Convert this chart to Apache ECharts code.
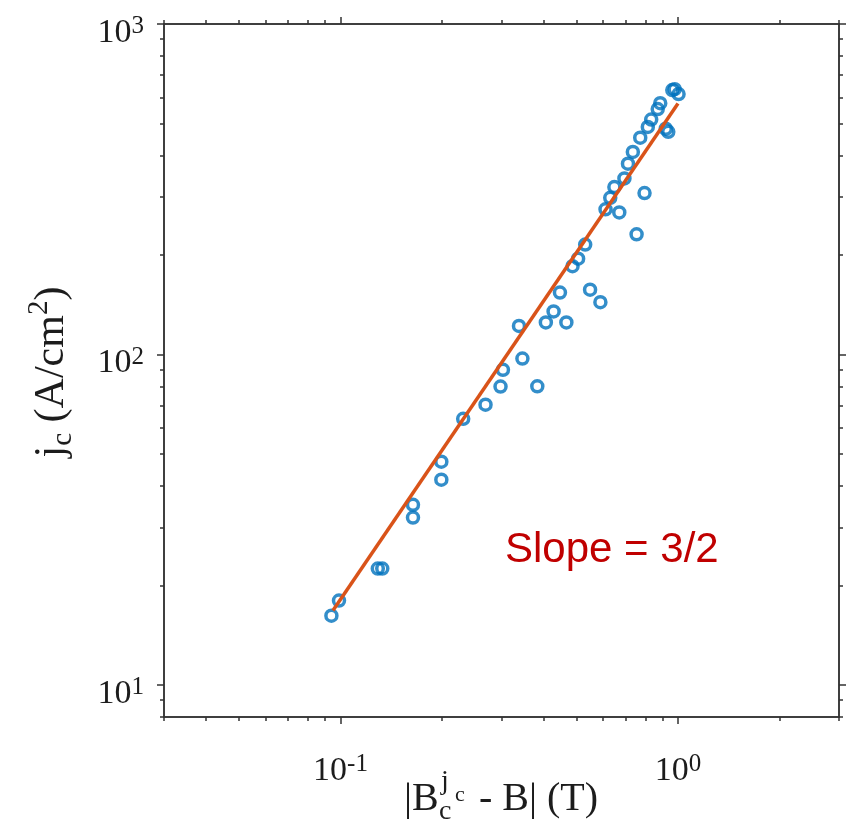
<!DOCTYPE html>
<html>
<head>
<meta charset="utf-8">
<title>Critical current density vs field</title>
<script src="https://cdn.jsdelivr.net/npm/echarts@6/dist/echarts.min.js"></script>
<style>
  html, body { margin: 0; padding: 0; background: #ffffff; }
  #chart { width: 849px; height: 826px; }
</style>
</head>
<body>
<div id="chart"></div>
<script>
// Measured |Bc^jc - B| (T) and critical current density jc (A/cm^2)
const fieldT = [0.0940, 0.0990, 0.129, 0.133, 0.164, 0.164, 0.199, 0.199, 0.231, 0.269,
                0.298, 0.303, 0.346, 0.383, 0.338, 0.406, 0.428, 0.467, 0.447, 0.549,
                0.589, 0.487, 0.506, 0.531, 0.610, 0.630, 0.648, 0.670, 0.694, 0.711,
                0.735, 0.773, 0.796, 0.754, 0.814, 0.833, 0.871, 0.886, 0.920, 0.936,
                0.962, 0.978, 1.004];
const currentJc = [16.2, 18.0, 22.5, 22.5, 35.1, 32.1, 47.4, 41.8, 63.9, 70.5,
                   80.0, 89.9, 97.2, 80.1, 122, 125, 135, 125, 154, 157,
                   144, 185, 195, 215, 275, 298, 321, 269, 341, 378,
                   410, 453, 308, 231, 488, 514, 553, 576, 482, 472,
                   631, 635, 614];

// Power-law guide line with slope 3/2 (end points)
const fitX = [0.095, 1.0];
const fitY = [16.8, 575];
const slopeText = 'Slope = 3/2';

// Axis ranges and tick positions (data units)
const xRange = [0.03, 3];
const yRange = [8, 1000];
const xMajorTicks = [0.1, 1];
const xMinorTicks = [0.03, 0.04, 0.05, 0.06, 0.07, 0.08, 0.09, 0.2, 0.3, 0.4, 0.5, 0.6, 0.7, 0.8, 0.9, 2, 3];
const yMajorTicks = [10, 100, 1000];
const yMinorTicks = [8, 9, 20, 30, 40, 50, 60, 70, 80, 90, 200, 300, 400, 500, 600, 700, 800, 900];

const lg = Math.log10;
const SERIF = "'Liberation Serif', 'Times New Roman', serif";
const AXIS_COLOR = '#333333';
const TEXT_COLOR = '#1c1c1c';

const powLabel = {
  formatter: v => '{b|10}{s|' + Math.round(v) + '}',
  color: TEXT_COLOR,
  rich: {
    b: { fontFamily: SERIF, fontSize: 34, lineHeight: 36, verticalAlign: 'bottom', color: TEXT_COLOR },
    s: { fontFamily: SERIF, fontSize: 25, lineHeight: 20, verticalAlign: 'top', color: TEXT_COLOR }
  }
};

function makeAxis(kind, position, ticks, len, withLabels, range) {
  const vals = ticks.map(lg);
  const ax = {
    type: 'value',
    position: position,
    min: lg(range[0]),
    max: lg(range[1]),
    scale: true,
    splitLine: { show: false },
    axisLine: { show: true, onZero: false, lineStyle: { color: AXIS_COLOR, width: 1.5 } },
    axisTick: { show: true, inside: false, length: len, customValues: vals,
                lineStyle: { color: AXIS_COLOR, width: 1.5 } },
    axisLabel: { show: false }
  };
  if (withLabels) {
    ax.axisLabel = Object.assign({ show: true, customValues: vals }, powLabel,
      kind === 'x' ? { margin: 35 } : { margin: 20, padding: [16, 0, 0, 0] });
  }
  return ax;
}

// Small helper for a left-aligned, vertically centred text piece
function piece(text, x, y, size) {
  return { type: 'text', x: x, y: y,
           style: { text: text, font: size + 'px ' + SERIF, fill: TEXT_COLOR, align: 'left', verticalAlign: 'middle' } };
}

const chart = echarts.init(document.getElementById('chart'), null, { renderer: 'canvas' });

chart.setOption({
  animation: false,
  backgroundColor: '#ffffff',
  grid: { left: 164, top: 24, width: 675, height: 693, outerBoundsMode: 'none' },
  xAxis: [
    makeAxis('x', 'bottom', xMajorTicks, 7, true, xRange),
    makeAxis('x', 'bottom', xMinorTicks, 4, false, xRange),
    makeAxis('x', 'top', xMajorTicks, 7, false, xRange),
    makeAxis('x', 'top', xMinorTicks, 4, false, xRange)
  ],
  yAxis: [
    makeAxis('y', 'left', yMajorTicks, 7, true, yRange),
    makeAxis('y', 'left', yMinorTicks, 4, false, yRange),
    makeAxis('y', 'right', yMajorTicks, 7, false, yRange),
    makeAxis('y', 'right', yMinorTicks, 4, false, yRange)
  ],
  series: [
    {
      type: 'scatter',
      data: fieldT.map((x, i) => [lg(x), lg(currentJc[i])]),
      symbol: 'circle',
      symbolSize: 11,
      itemStyle: { color: 'rgba(0,0,0,0)', borderColor: '#0072BD', borderWidth: 3.5 },
      z: 2
    },
    {
      type: 'line',
      data: fitX.map((x, i) => [lg(x), lg(fitY[i])]),
      showSymbol: false,
      lineStyle: { color: '#D95319', width: 3.5 },
      z: 3
    }
  ],
  graphic: [
    {
      // y-axis title, rotated to read bottom-to-top
      type: 'group',
      x: 52, y: 372,
      rotation: Math.PI / 2,
      children: [
        piece('j', -85.5, 0, 42),
        piece('c', -73.8, 11, 29),
        piece(' (A/cm', -60.9, 0, 42),
        piece('2', 56.9, -13, 29),
        piece(')', 71.4, 0, 42)
      ]
    },
    {
      // x-axis title
      type: 'group',
      children: [
        piece('|B', 404, 799, 40),
        piece('j', 441, 782, 28),
        piece('c', 439, 812, 28),
        piece('c', 455, 795, 22),
        piece('- B| (T)', 479, 799, 40)
      ]
    },
    {
      type: 'text',
      x: 505, y: 550,
      style: {
        text: slopeText,
        font: "42px 'Liberation Sans', Arial, sans-serif",
        fill: '#C00000',
        align: 'left',
        verticalAlign: 'middle'
      }
    }
  ]
});
</script>
</body>
</html>
